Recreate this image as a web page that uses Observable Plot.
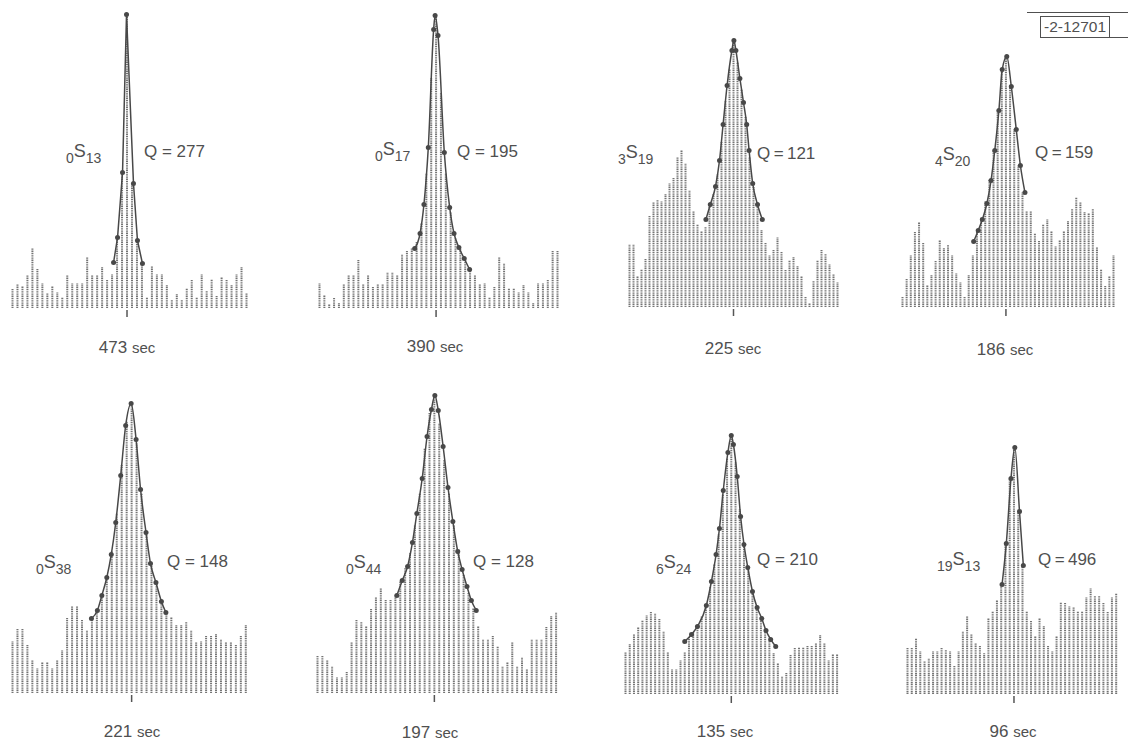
<!DOCTYPE html>
<html><head><meta charset="utf-8">
<script src="https://cdn.jsdelivr.net/npm/d3@7"></script>
<script src="https://cdn.jsdelivr.net/npm/@observablehq/plot@0.6"></script>
<style>
html,body{margin:0;padding:0;background:#fff;}
#page{position:relative;width:1128px;height:743px;overflow:hidden;font-family:"Liberation Sans",Arial,sans-serif;color:#505050;}
.lbl{position:absolute;white-space:nowrap;font-size:17px;line-height:17px;}
.mode{font-size:18px;}
.sb{font-size:14px;position:relative;top:6px;}
.unit{font-size:15px;}
</style></head><body><div id="page"></div>
<script>
// ---- data ----
const periods = [473, 390, 225, 186, 221, 197, 135, 96];
const modeN = ["0", "0", "3", "4", "0", "0", "6", "19"];
const modeL = ["13", "17", "19", "20", "38", "44", "24", "13"];
const qValues = [277, 195, 121, 159, 148, 128, 210, 496];
const figureId = "-2-12701";

const bars1 = [19,24,22,33,60,39,25,15,22,16,11,33,25,25,25,51,33,33,41,28,34,71,136,294,125,68,45,11,42,34,34,23,8,14,8,20,28,11,34,17,29,12,31,28,23,34,41,15];
const bars2 = [25,13,4,10,5,24,33,33,48,24,33,21,24,24,36,36,33,54,57,60,66,85,135,230,293,215,135,96,70,59,48,39,33,24,25,11,21,51,45,20,20,16,23,16,5,25,25,28,57,57];
const bars3 = [63,63,31,38,48,91,105,107,106,113,124,129,150,157,144,117,96,83,76,80,101,113,133,165,206,238,267,245,218,190,150,120,100,77,64,52,57,70,55,37,47,50,41,31,10,4,26,47,57,53,43,33,25];
const bars4 = [10,28,52,75,85,64,22,32,46,67,59,62,52,34,25,10,32,52,78,90,106,127,157,197,238,251,221,178,142,115,96,96,74,66,83,88,76,61,67,76,86,98,110,105,95,94,98,60,38,21,31,52];
const bars5 = [52,64,64,48,33,25,31,31,25,33,43,75,87,87,73,63,76,84,98,116,142,180,228,272,290,250,200,158,128,109,92,80,76,68,68,71,63,51,52,57,57,59,54,51,51,48,57,68];
const bars6 = [37,37,33,27,16,16,21,51,73,71,67,84,96,105,93,93,98,112,125,140,168,200,245,280,298,270,233,200,168,140,118,100,85,67,54,54,57,47,27,31,51,27,36,24,54,54,54,66,77,81];
const bars7 = [42,50,60,67,74,79,82,81,75,63,42,25,25,34,42,57,62,68,78,88,107,130,160,200,236,259,232,185,150,125,103,88,77,64,54,41,31,18,21,39,46,47,47,48,48,51,59,51,34,40,40];
const bars8 = [46,46,56,43,33,36,43,43,46,44,43,28,43,63,78,60,51,48,41,76,83,94,110,150,216,247,183,130,83,73,58,76,68,48,43,58,92,91,88,87,83,83,97,106,98,98,91,82,97,101];

// fitted resonance curves: bin position and height of each plotted point
const fit1X = [20.3,21.1,22.1,22.9,24.3,25.1,26.1];
const fit1H = [46,71,136,294,125,68,45];
const fit2X = [19.6,20.7,21.5,22.4,23.5,23.8,24.4,25.7,26.8,27.7,28.7,29.8,30.9];
const fit2H = [60,75,104,161,279,293,273,156,101,75,61,50,39];
const fit3X = [19.1,20.2,21.5,22.5,23.4,24.4,25.6,26.1,26.6,27.6,28.5,29.3,29.9,30.8,32,33.2];
const fit3H = [88,103,121,147,183,222,257,267,257,229,205,183,157,124,103,88];
const fit4X = [17.2,18.3,19.3,20.4,21.4,22.3,23.3,24.1,25.2,26.3,27.5,28.5,29.6];
const fit4H = [66,77,88,104,127,157,197,238,251,221,178,142,115];
const fit5X = [15.9,17.1,18,19,19.9,20.8,21.8,22.8,23.9,24.9,25.8,26.9,27.8,28.9,30,30.9];
const fit5H = [75,83,98,116,139,171,218,268,290,254,204,161,130,111,92,81];
const fit6X = [16.3,17.4,18.5,19.5,20.4,21.5,22.5,23.4,24.1,24.8,25.8,26.8,27.8,28.8,29.7,30.7,31.6,32.6];
const fit6H = [98,113,127,151,180,215,257,284,298,283,247,206,172,142,124,107,93,83];
const fit7X = [14.0,15.6,17.0,19.1,20.3,21.4,22.2,23.1,24.2,25.0,25.5,26.4,27.2,28.0,28.9,30.0,31.1,32.2,33.2,34.3,35.5];
const fit7H = [53,60,68,89,113,140,166,204,242,259,250,218,178,150,127,103,87,76,64,55,48];
const fit8X = [22.2,23.2,24.3,25.2,26.3,27.2];
const fit8H = [110,151,216,247,183,129];

// ---- layout (page pixels) ----
const layout = [
  {first:12,    last:246,    base:308,   mode:[66,157],  q:[144,157],  per:[127,353],  sep:" = ", curve:"linear"},
  {first:318.7, last:556.7,  base:308,   mode:[375,155], q:[457,157],  per:[435,352],  sep:" = ", curve:"monotone-x"},
  {first:629,   last:837,    base:307,   mode:[618,158], q:[757,159],  per:[733,354],  sep:"\u2009=\u2009", curve:"monotone-x"},
  {first:902.3, last:1113.3, base:307,   mode:[935,160], q:[1035,158], per:[1005,355], sep:"\u2009=\u2009", curve:"monotone-x"},
  {first:12,    last:245.3,  base:693.3, mode:[36,568],  q:[167,567],  per:[132,737],  sep:" = ", curve:"monotone-x"},
  {first:316.7, last:555.3,  base:693.3, mode:[346,568], q:[473,567],  per:[430,738],  sep:" = ", curve:"monotone-x"},
  {first:624.7, last:836.3,  base:694,   mode:[656,568], q:[757,565],  per:[725,737],  sep:" = ", curve:"monotone-x"},
  {first:907.3, last:1116,   base:694,   mode:[937,565], q:[1038,565], per:[1013,737], sep:"\u2009=\u2009", curve:"monotone-x"}
];

const bars = [bars1,bars2,bars3,bars4,bars5,bars6,bars7,bars8];
const fitX = [fit1X,fit2X,fit3X,fit4X,fit5X,fit6X,fit7X,fit8X];
const fitH = [fit1H,fit2H,fit3H,fit4H,fit5H,fit6H,fit7H,fit8H];

const page = document.getElementById("page");
const ink = "#484848";
const BASELINE_OFF = 14.4;

function addLabel(html, x, baseY, cls, extraStyle) {
  const d = document.createElement("div");
  d.className = "lbl" + (cls ? " " + cls : "");
  d.innerHTML = html;
  d.style.left = x + "px";
  const fs = cls === "mode" ? 18 : 17;
  d.style.lineHeight = fs + "px";
  d.style.top = (baseY - BASELINE_OFF * fs / 17) + "px";
  if (extraStyle) Object.assign(d.style, extraStyle);
  page.appendChild(d);
}

bars.forEach((values, i) => {
  const L = layout[i];
  const n = values.length;
  const pad = 10;
  const width = (L.last - L.first) + 2 * pad;
  const peak = values.indexOf(d3.max(values));
  const table = values.map((h, k) => ({k, h}));
  const fit = fitX[i].map((x, j) => ({x, h: fitH[i][j]}));
  const chart = Plot.plot({
    width, height: 330,
    marginLeft: pad, marginRight: pad, marginTop: 8, marginBottom: 22,
    x: {domain: [0, n - 1], axis: null},
    y: {domain: [0, 300], axis: null},
    style: {overflow: "visible", background: "transparent"},
    marks: [
      Plot.ruleX(table, {x: "k", y1: 0, y2: "h", stroke: "#737373", strokeWidth: 2, strokeDasharray: "1.1,0.7"}),
      Plot.ruleX([peak], {y1: -2, y2: -9, stroke: "#555", strokeWidth: 1.5}),
      Plot.line(fit, {x: "x", y: "h", curve: L.curve, stroke: ink, strokeWidth: 1.5}),
      Plot.dot(fit, {x: "x", y: "h", r: 2.5, fill: ink, stroke: "none"})
    ]
  });
  chart.style.position = "absolute";
  chart.style.left = (L.first - pad) + "px";
  chart.style.top = (L.base - 308) + "px";
  page.appendChild(chart);

  addLabel(`<span class="sb">${modeN[i]}</span>S<span class="sb">${modeL[i]}</span>`, L.mode[0], L.mode[1], "mode");
  addLabel(`Q${L.sep}${qValues[i]}`, L.q[0], L.q[1]);
  addLabel(`${periods[i]} <span class="unit">sec</span>`, L.per[0], L.per[1], null, {transform: "translateX(-50%)"});
});

// figure number box, top right
const topLine = document.createElement("div");
Object.assign(topLine.style, {position: "absolute", left: "1027px", top: "12px", width: "101px", height: "0", borderTop: "1.5px solid #505050"});
page.appendChild(topLine);
const box = document.createElement("div");
Object.assign(box.style, {position: "absolute", left: "1040px", top: "16px", width: "68px", height: "20px", border: "1.5px solid #505050",
  fontSize: "15.5px", lineHeight: "20px", textAlign: "center"});
box.textContent = figureId;
page.appendChild(box);
const rightLine = document.createElement("div");
Object.assign(rightLine.style, {position: "absolute", left: "1110px", top: "37px", width: "18px", height: "0", borderTop: "1.5px solid #505050"});
page.appendChild(rightLine);
</script>
</body></html>
